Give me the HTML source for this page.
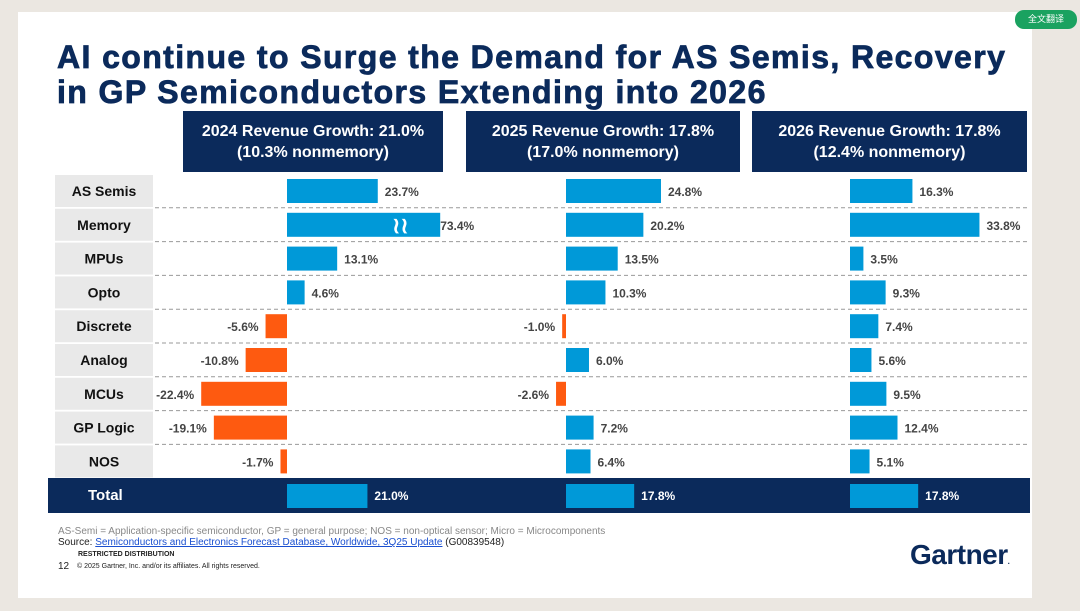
<!DOCTYPE html>
<html><head><meta charset="utf-8"><style>
body{margin:0;width:1080px;height:611px;background:#ebe7e1;font-family:"Liberation Sans",Arial,sans-serif;overflow:hidden;position:relative}
#slide{position:absolute;left:18px;top:12px;width:1014px;height:586px;background:#fff}
.title{position:absolute;left:57px;top:40px;font-size:32px;font-weight:bold;color:#0b2a5b;line-height:35px;letter-spacing:1.4px;margin:0;-webkit-text-stroke:0.8px #0b2a5b}
.hdr{position:absolute;top:111px;height:61px;background:#0b2a5b;color:#fff;font-size:16px;font-weight:bold;text-align:center;line-height:21px;display:flex;align-items:center;justify-content:center}
.btn{position:absolute;left:1015px;top:10px;width:62px;height:19px;background:#1aa260;border-radius:9px;color:#fff;font-size:9px;line-height:19px;text-align:center;font-family:"Liberation Sans","Noto Sans CJK SC",sans-serif}
.foot{position:absolute;font-size:10px;color:#888}
</style></head><body>
<div id="slide"></div>
<div class="btn">全文翻译</div>
<h1 class="title">AI continue to Surge the Demand for AS Semis, Recovery<br>in GP Semiconductors Extending into 2026</h1>
<div class="hdr" style="left:183px;width:260px">2024 Revenue Growth: 21.0%<br>(10.3% nonmemory)</div>
<div class="hdr" style="left:466px;width:274px">2025 Revenue Growth: 17.8%<br>(17.0% nonmemory)</div>
<div class="hdr" style="left:752px;width:275px">2026 Revenue Growth: 17.8%<br>(12.4% nonmemory)</div>
<svg id="chart" width="1080" height="611" style="position:absolute;left:0;top:0"></svg>
<div class="foot" style="left:58px;top:526px">AS-Semi = Application-specific semiconductor, GP = general purpose; NOS = non-optical sensor; Micro = Microcomponents</div>
<div class="foot" style="left:58px;top:537px;color:#222">Source: <span style="color:#1a4fd0;text-decoration:underline">Semiconductors and Electronics Forecast Database, Worldwide, 3Q25 Update</span> (G00839548)</div>
<div class="foot" style="left:78px;top:551px;font-size:7px;font-weight:bold;color:#222">RESTRICTED DISTRIBUTION</div>
<div class="foot" style="left:58px;top:561px;font-size:10px;color:#222">12</div>
<div class="foot" style="left:77px;top:563px;font-size:7px;color:#222">© 2025 Gartner, Inc. and/or its affiliates. All rights reserved.</div>
<div class="foot" style="left:910px;top:539px;font-size:28px;font-weight:bold;color:#0b2a5b;letter-spacing:-0.5px">Gartner<span style="font-size:8px">.</span></div>
<script>
const categories=["AS Semis","Memory","MPUs","Opto","Discrete","Analog","MCUs","GP Logic","NOS"];
const values2024=[23.7,73.4,13.1,4.6,-5.6,-10.8,-22.4,-19.1,-1.7];
const values2025=[24.8,20.2,13.5,10.3,-1.0,6.0,-2.6,7.2,6.4];
const values2026=[16.3,33.8,3.5,9.3,7.4,5.6,9.5,12.4,5.1];
const totals=[21.0,17.8,17.8];
const ns="http://www.w3.org/2000/svg";
const svg=document.getElementById('chart');
const zeros=[287,566,850];
const scale=3.83, cap=40;
const rowY=i=>191+i*33.8;
function mk(t,a){const e=document.createElementNS(ns,t);for(const k in a)e.setAttribute(k,a[k]);svg.appendChild(e);return e;}
const xOf=(p,v)=>zeros[p]+Math.max(-cap,Math.min(cap,v))*scale;
categories.forEach((c,i)=>{
  const y=rowY(i);
  const bg=mk('rect',{x:55,y:y-16,width:98,height:32,fill:'#e9e9e9'});
  
  
  const t=mk('text',{x:104,y:y+5,'text-anchor':'middle','font-size':14,'font-weight':'bold',fill:'#111'});
  t.textContent=c;
  
  
  if(i>0){const l=mk('line',{x1:155,x2:1028,y1:y-17,y2:y-17,stroke:'#999','stroke-dasharray':'4,3','stroke-width':1});
    
    }
});
[values2024,values2025,values2026].forEach((vals,p)=>{
  vals.forEach((v,i)=>{
    const y=rowY(i);const x0=zeros[p],x1=xOf(p,v);
    const b=mk('rect',{x:Math.min(x0,x1),y:y-12,width:Math.max(2,Math.abs(x1-x0)),height:24,fill:v<0?'#fe5a10':'#0099d8'});
    
    
    if(Math.abs(v)>cap){const br=mk('text',{x:x0+(x1-x0)*0.74,y:y+8,'text-anchor':'middle','font-size':22,'font-weight':'bold',fill:'#fff'});br.textContent='≀≀';
      
      }
    const lab=mk('text',{x:v<0?x1-7:x1+7+(Math.abs(v)>cap?-7:0),y:y+5,'text-anchor':v<0?'end':'start','font-size':12,'font-weight':'bold',fill:'#444'});
    lab.textContent=v.toFixed(1)+'%';
    
    
  });
});
const band=mk('rect',{x:48,y:478,width:982,height:35,fill:'#0b2a5b'});


const tl=mk('text',{x:88,y:500,'font-size':15,'font-weight':'bold',fill:'#fff'});tl.textContent='Total';


totals.forEach((v,p)=>{
  const x1=xOf(p,v);
  const b=mk('rect',{x:zeros[p],y:484,width:x1-zeros[p],height:24,fill:'#0099d8'});
  
  
  const t=mk('text',{x:x1+7,y:500,'font-size':12,'font-weight':'bold',fill:'#fff'});t.textContent=v.toFixed(1)+'%';
  
  
});
</script>
</body></html>
